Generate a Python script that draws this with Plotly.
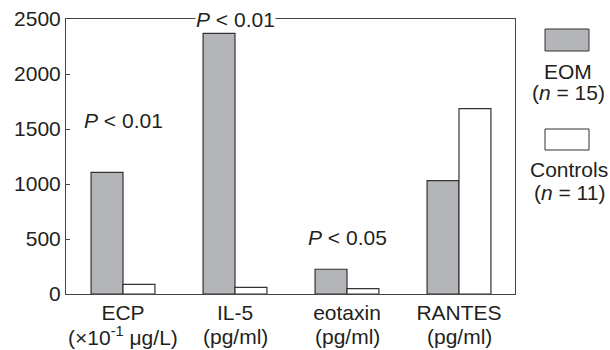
import plotly.graph_objects as go

categories = ["ECP", "IL-5", "eotaxin", "RANTES"]
units = ["(×10<sup>-1</sup> μg/L)", "(pg/ml)", "(pg/ml)", "(pg/ml)"]
eom_values = [1105, 2370, 225, 1030]
control_values = [88, 60, 48, 1685]
y_ticks = [0, 500, 1000, 1500, 2000, 2500]

FONT = "Liberation Sans, Arial, Helvetica, sans-serif"
INK = "#231f20"
FS = 21
W, H = 610, 350
L, R, T, B = 66, 95, 19, 56
PW, PH = W - L - R, H - T - B

def px(x):
    return (x - L) / PW

def py(y):
    return (H - B - y) / PH

fig = go.Figure()
fig.add_trace(go.Bar(x=categories, y=eom_values, name="EOM",
                     marker=dict(color="#b4b5b8", line=dict(color="#333333", width=1.2))))
fig.add_trace(go.Bar(x=categories, y=control_values, name="Controls",
                     marker=dict(color="#ffffff", line=dict(color="#333333", width=1.2))))

fig.update_layout(
    width=W, height=H,
    margin=dict(l=L, r=R, t=T, b=B, autoexpand=False),
    paper_bgcolor="white", plot_bgcolor="white",
    barmode="group", bargap=0.43, bargroupgap=0,
    showlegend=False,
    font=dict(family=FONT, size=FS, color=INK),
)
fig.update_xaxes(showline=True, linecolor="#444444", linewidth=1, mirror=True,
                 ticks="", ticklabelstandoff=0,
                 tickfont=dict(size=FS, family=FONT, color=INK))
fig.update_yaxes(range=[0, 2500], tickvals=y_ticks, showgrid=False, zeroline=False,
                 showline=True, linecolor="#444444", linewidth=1, mirror=True,
                 ticks="inside", ticklen=4, tickcolor="#444444",
                 tickfont=dict(size=FS, family=FONT, color=INK))

# unit lines under category labels
for cat, unit in zip(categories, units):
    fig.add_annotation(x=cat, y=py(336), xref="x", yref="paper", text=unit,
                       showarrow=False, xanchor="center", yanchor="middle",
                       font=dict(size=FS, family=FONT, color=INK))

# significance annotations
fig.add_annotation(x=categories[1], y=2500, xref="x", yref="y", text="<i>P</i> < 0.01",
                   showarrow=False, bgcolor="white", borderpad=0,
                   font=dict(size=FS, family=FONT, color=INK))
fig.add_annotation(x=categories[0], y=1580, xref="x", yref="y", text="<i>P</i> < 0.01",
                   showarrow=False, font=dict(size=FS, family=FONT, color=INK))
fig.add_annotation(x=categories[2], y=510, xref="x", yref="y", text="<i>P</i> < 0.05",
                   showarrow=False, font=dict(size=FS, family=FONT, color=INK))

# custom legend
fig.add_shape(type="rect", xref="paper", yref="paper",
              x0=px(545), x1=px(589), y0=py(51), y1=py(29),
              fillcolor="#b4b5b8", line=dict(color="#333333", width=1))
fig.add_shape(type="rect", xref="paper", yref="paper",
              x0=px(545), x1=px(589), y0=py(150), y1=py(129),
              fillcolor="#ffffff", line=dict(color="#333333", width=1))
for txt, xx, yy in [("EOM", 568, 71), ("(<i>n</i> = 15)", 568, 92),
                    ("Controls", 569, 169), ("(<i>n</i> = 11)", 569, 192)]:
    fig.add_annotation(x=px(xx), y=py(yy), xref="paper", yref="paper", text=txt,
                       showarrow=False, xanchor="center", yanchor="middle",
                       font=dict(size=FS, family=FONT, color=INK))

fig.write_html("out.html", config={"displayModeBar": False},
               post_script="document.body.style.margin='0';document.body.style.overflow='hidden';")
